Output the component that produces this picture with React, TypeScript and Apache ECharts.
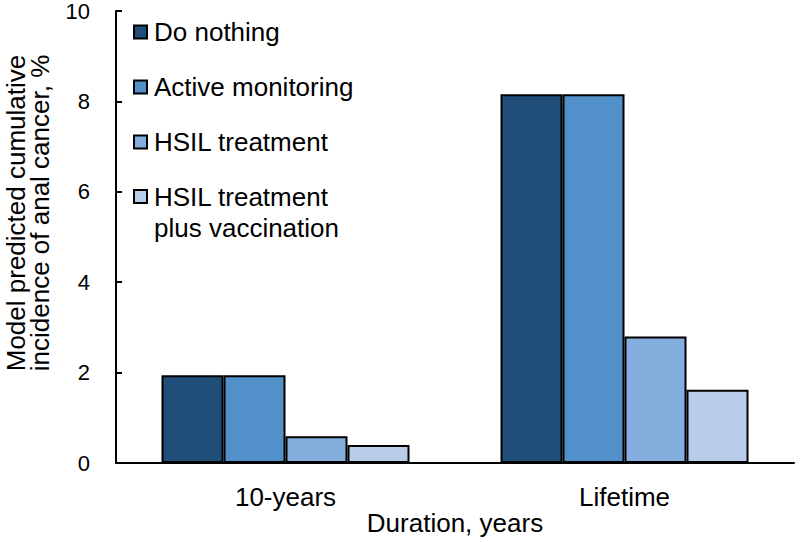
import React, { useEffect, useRef } from "react";
import * as echarts from "echarts";

const categories = ["10-years", "Lifetime"];
const seriesNames = [
  "Do nothing",
  "Active monitoring",
  "HSIL treatment",
  "HSIL treatment plus vaccination",
];
const doNothing = [1.94, 8.16];
const activeMonitoring = [1.94, 8.16];
const hsilTreatment = [0.59, 2.8];
const hsilVaccination = [0.4, 1.62];
const colors = ["#1F4E79", "#5290C9", "#84AEDE", "#B8CDE8"];
const yTicks = { min: 0, max: 10, interval: 2 };

const FONT = "'Liberation Sans', Arial, sans-serif";

export default function App() {
  const ref = useRef<HTMLDivElement>(null);
  useEffect(() => {
    if (!ref.current) return;
    const chart = echarts.init(ref.current, undefined, { renderer: "svg" });
    const values = [doNothing, activeMonitoring, hsilTreatment, hsilVaccination];
    const option: any = {
      animation: false,
      textStyle: { fontFamily: FONT, color: "#000" },
      grid: { left: 116, right: 6, top: 11, bottom: 79, containLabel: false, outerBoundsMode: "none" },
      legend: [
        {
          data: seriesNames.slice(0, 3),
          orient: "vertical",
          left: 133,
          top: 19,
          padding: 0,
          itemGap: 29,
          itemWidth: 13,
          itemHeight: 13,
          icon: "rect",
          selectedMode: false,
          textStyle: { fontSize: 26, lineHeight: 24, color: "#000", fontFamily: FONT, padding: [0, 0, 0, 2] },
        },
        {
          data: [seriesNames[3]],
          orient: "vertical",
          left: 133,
          top: 150,
          padding: 0,
          itemWidth: 13,
          itemHeight: 13,
          icon: "rect",
          selectedMode: false,
          formatter: () => "\nHSIL treatment\nplus vaccination",
          textStyle: {
            fontSize: 26,
            lineHeight: 31,
            color: "#000",
            fontFamily: FONT,
            padding: [0, 0, 0, 2],
          },
        },
      ],
      xAxis: {
        type: "category",
        data: categories,
        name: "Duration, years",
        nameLocation: "middle",
        nameGap: 46,
        nameMoveOverlap: false,
        nameTextStyle: { fontSize: 26, lineHeight: 28, color: "#000", fontFamily: FONT },
        axisLine: { lineStyle: { color: "#000", width: 2 } },
        axisTick: { inside: true, length: 6, lineStyle: { color: "#000", width: 2 } },
        axisLabel: { fontSize: 26, lineHeight: 28, color: "#000", margin: 20, fontFamily: FONT },
        splitLine: { show: false },
      },
      yAxis: {
        type: "value",
        min: yTicks.min,
        max: yTicks.max,
        interval: yTicks.interval,
        name: "Model predicted cumulative\nincidence of anal cancer, %",
        nameLocation: "middle",
        nameGap: 64,
        nameRotate: 90,
        nameMoveOverlap: false,
        nameTextStyle: {
          fontSize: 26,
          lineHeight: 24,
          color: "#000",
          fontFamily: FONT,
          padding: [0, 0, 0, 48],
        },
        axisLine: { show: true, lineStyle: { color: "#000", width: 2 } },
        axisTick: { show: true, inside: true, length: 6, lineStyle: { color: "#000", width: 2 } },
        axisLabel: { fontSize: 22, color: "#000", margin: 26, fontFamily: FONT },
        splitLine: { show: false },
      },
      series: seriesNames.map((name, i) => ({
        name,
        type: "bar",
        data: values[i],
        barWidth: 62,
        barGap: "0%",
        itemStyle: { color: colors[i], borderColor: "#000", borderWidth: 2 },
      })),
    };
    chart.setOption(option);
    return () => chart.dispose();
  }, []);
  return <div ref={ref} style={{ width: 800, height: 542, position: "absolute", left: 0, top: 0 }} />;
}
